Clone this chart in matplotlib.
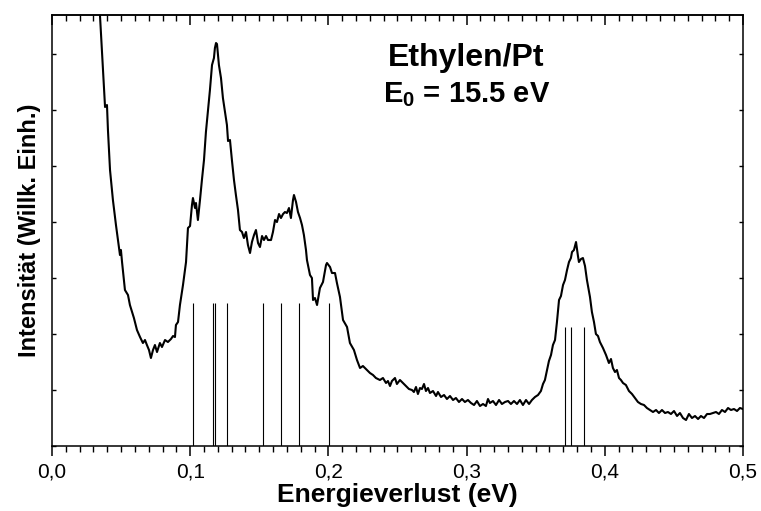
import matplotlib
matplotlib.use("Agg")
import matplotlib.pyplot as plt
from matplotlib.ticker import MultipleLocator, FuncFormatter, NullFormatter

plt.rcParams['font.family'] = ['Liberation Sans', 'DejaVu Sans']
plt.rcParams['mathtext.fontset'] = 'custom'
plt.rcParams['mathtext.rm'] = 'Liberation Sans:bold'
plt.rcParams['mathtext.it'] = 'Liberation Sans:bold'
plt.rcParams['mathtext.bf'] = 'Liberation Sans:bold'

# EELS spectrum, energy loss in meV, intensity in arbitrary units
loss_mev = [
    34.0, 38.4, 39.8, 40.5, 42.0, 44.1, 46.3, 49.2, 49.9, 50.7,
    52.8, 55.0, 56.4, 59.3, 61.5, 63.7, 65.8, 67.3, 68.7, 70.2,
    71.6, 73.1, 74.5, 76.0, 78.1, 79.6, 81.8, 83.9, 86.1, 87.6,
    89.0, 89.7, 91.2, 92.6, 94.8, 97.0, 98.4, 99.9, 101.3, 102.0,
    103.5, 104.2, 105.6, 107.1, 108.5, 110.0, 111.4, 112.9, 114.3, 115.8,
    117.2, 117.9, 118.7, 119.4, 120.8, 122.3, 123.7, 125.2, 126.6, 127.4,
    128.8, 130.2, 131.7, 133.1, 134.6, 136.0, 137.5, 138.9, 140.4, 141.8,
    143.3, 144.7, 146.2, 147.6, 149.1, 150.5, 152.0, 153.4, 154.9, 156.3,
    158.5, 159.9, 161.4, 162.8, 164.3, 165.7, 167.2, 168.6, 170.0, 171.5,
    172.9, 174.4, 175.1, 176.6, 178.0, 179.5, 180.9, 182.3, 183.8, 184.5,
    186.7, 188.1, 188.9, 190.3, 191.8, 193.9, 196.1, 198.3, 199.0, 201.2,
    202.6, 204.8, 206.2, 208.4, 210.6, 213.5, 215.6, 218.5, 220.7, 222.9,
    225.0, 227.9, 230.1, 232.3, 234.4, 237.3, 239.5, 241.7, 243.1, 244.6,
    246.0, 248.2, 249.6, 251.8, 254.0, 256.2, 258.3, 260.5, 261.9, 263.4,
    264.8, 266.3, 267.7, 269.2, 270.6, 272.1, 273.5, 275.7, 277.9, 279.3,
    281.5, 283.7, 285.8, 288.0, 290.2, 292.3, 294.5, 296.7, 298.8, 301.0,
    303.2, 305.4, 307.5, 309.7, 311.9, 314.0, 315.5, 316.9, 319.1, 321.3,
    323.5, 325.6, 327.8, 330.0, 332.1, 334.3, 336.5, 338.6, 340.8, 343.0,
    345.2, 347.3, 349.5, 351.7, 353.8, 355.3, 356.7, 358.2, 359.6, 361.1,
    362.5, 364.0, 365.4, 366.9, 368.3, 369.8, 371.2, 372.7, 374.1, 375.5,
    376.3, 377.7, 379.2, 380.6, 381.3, 382.8, 384.2, 385.7, 387.1, 389.3,
    390.7, 392.2, 393.6, 395.1, 396.5, 398.7, 400.9, 403.0, 404.5, 405.9,
    407.4, 408.8, 410.3, 411.7, 413.2, 415.3, 417.5, 419.7, 421.9, 424.0,
    426.2, 428.4, 430.5, 432.7, 434.9, 437.1, 439.2, 441.4, 443.6, 445.7,
    447.9, 450.1, 452.3, 454.4, 456.6, 458.8, 460.9, 463.1, 465.3, 467.5,
    469.6, 471.8, 474.0, 476.1, 478.3, 480.5, 482.6, 484.8, 487.0, 489.2,
    491.3, 493.5, 495.7, 497.8, 500.0,
]
intensity = [
    449, 339, 341, 316, 276, 246, 221, 191, 196, 184,
    156, 151, 141, 128, 116, 109, 103, 106, 101, 96,
    88, 96, 101, 94, 103, 99, 106, 104, 107, 110,
    109, 121, 124, 141, 161, 184, 218, 220, 241, 248,
    238, 243, 226, 246, 266, 286, 314, 336, 356, 381,
    388, 398, 403, 402, 381, 368, 348, 334, 321, 305,
    306, 286, 266, 251, 236, 216, 214, 208, 214, 201,
    193, 204, 211, 216, 203, 199, 210, 206, 210, 206,
    206, 214, 226, 224, 232, 228, 232, 234, 233, 238,
    228, 246, 251, 244, 234, 228, 221, 211, 196, 186,
    171, 168, 146, 148, 141, 158, 164, 181, 183, 179,
    173, 173, 163, 149, 126, 119, 103, 96, 86, 78,
    80, 76, 73, 71, 68, 66, 68, 63, 65, 60,
    65, 68, 62, 66, 63, 60, 57, 56, 54, 59,
    52, 58, 57, 62, 55, 58, 53, 55, 50, 54,
    49, 51, 47, 50, 46, 48, 44, 47, 44, 46,
    43, 41, 45, 40, 42, 40, 47, 43, 45, 41,
    46, 42, 44, 45, 42, 45, 42, 46, 41, 46,
    42, 46, 49, 51, 55, 62, 66, 76, 85, 91,
    101, 106, 124, 146, 150, 161, 166, 176, 184, 188,
    194, 196, 204, 190, 184, 187, 188, 180, 166, 149,
    134, 124, 112, 110, 104, 98, 91, 83, 87, 78,
    74, 76, 68, 66, 63, 61, 55, 52, 48, 44,
    42, 41, 38, 36, 34, 36, 33, 36, 33, 34,
    32, 35, 30, 33, 28, 26, 32, 28, 30, 27,
    30, 28, 32, 32, 33, 34, 32, 36, 34, 38,
    36, 37, 35, 38, 37,
]

# calculated mode energies (meV) and stick heights
modes_mev = [101.8, 116.8, 117.8, 126.8, 152.9, 165.7, 178.9, 200.6,
             371.2, 375.3, 385.0]
mode_height = [143, 143, 143, 143, 143, 143, 143, 143,
               119, 119, 119]

energy = [e / 1000 for e in loss_mev]
modes = [e / 1000 for e in modes_mev]

fig = plt.figure(figsize=(7.61, 5.11), dpi=100)
ax = fig.add_axes([0.0683, 0.1272, 0.9080, 0.8434])

ax.plot(energy, intensity, color='black', lw=1.5)
ax.vlines(modes, 0, mode_height, color='black', lw=0.8)

ax.set_xlim(0, 0.5)
ax.set_ylim(0, 431)

# x axis: ticks out at bottom, in at top
ax.xaxis.set_major_locator(MultipleLocator(0.1))
ax.xaxis.set_minor_locator(MultipleLocator(0.01))
ax.xaxis.set_major_formatter(FuncFormatter(lambda v, p: f"{v:.1f}".replace('.', ',')))
ax.tick_params(axis='x', which='major', direction='out', length=7, width=1.1,
               labelsize=15, pad=5)
ax.tick_params(axis='x', which='minor', direction='out', length=4, width=1.0)

top = ax.secondary_xaxis('top')
top.xaxis.set_major_locator(MultipleLocator(0.1))
top.xaxis.set_minor_locator(MultipleLocator(0.01))
top.xaxis.set_major_formatter(NullFormatter())
top.tick_params(axis='x', which='major', direction='in', length=7, width=1.1)
top.tick_params(axis='x', which='minor', direction='in', length=4, width=1.0)
top.spines['top'].set_linewidth(1.1)

# y axis: arbitrary units, no labels
ax.set_yticks(range(0, 431, 56))
ax.tick_params(axis='y', direction='in', length=3, width=1.0,
               left=True, right=True, labelleft=False)

for s in ax.spines.values():
    s.set_linewidth(1.1)

ax.set_xlabel('Energieverlust (eV)', fontsize=19, fontweight='bold', labelpad=1)
ax.set_ylabel('Intensität (Willk. Einh.)', fontsize=17, fontweight='bold', labelpad=8)

ax.text(0.3, 380, 'Ethylen/Pt', ha='center', va='baseline',
        fontsize=23, fontweight='bold')
ax.text(0.3, 344, r'E$_{0}$ = 15.5 eV', ha='center', va='baseline',
        fontsize=21, fontweight='bold')

fig.savefig('out.png', dpi=100)
